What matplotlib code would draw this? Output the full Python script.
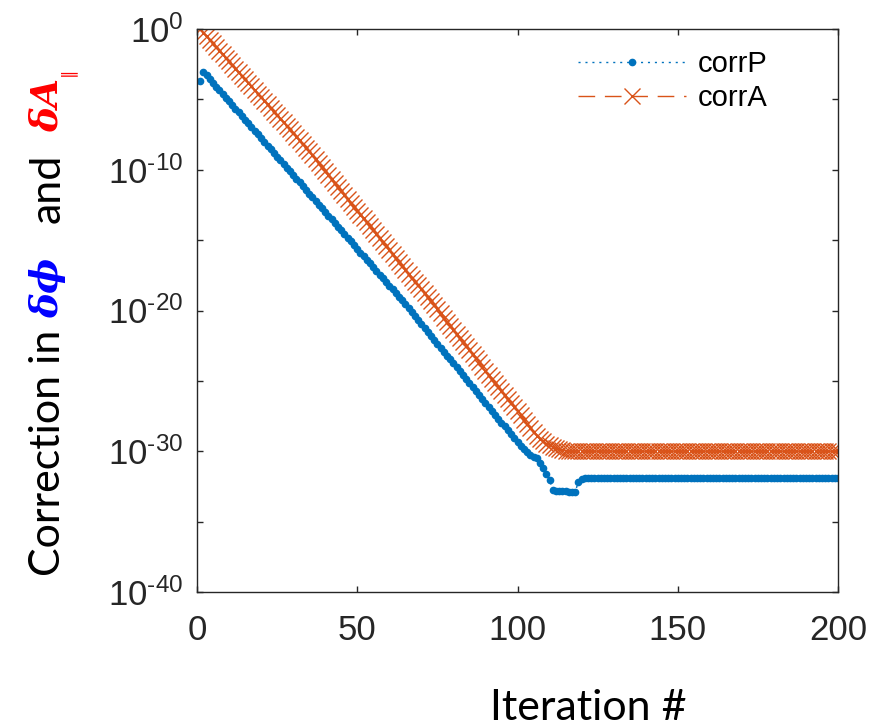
import numpy as np
import matplotlib
matplotlib.use('Agg')
import matplotlib.pyplot as plt

plt.rcParams['font.family'] = ['Liberation Sans', 'DejaVu Sans']
plt.rcParams['mathtext.fontset'] = 'custom'
plt.rcParams['mathtext.rm'] = 'Liberation Sans'
plt.rcParams['mathtext.it'] = 'Liberation Sans:italic'
plt.rcParams['mathtext.default'] = 'regular'

# iteration index
iters = np.arange(1, 201)

# log10 of correction in delta phi
logP = [-3.68, -3.04, -3.30, -3.56, -3.83, -4.09, -4.35, -4.61, -4.87, -5.14,
        -5.40, -5.66, -5.92, -6.18, -6.45, -6.71, -6.97, -7.23, -7.49, -7.76,
        -8.02, -8.28, -8.54, -8.80, -9.07, -9.33, -9.59, -9.85, -10.11, -10.38,
        -10.64, -10.90, -11.16, -11.42, -11.69, -11.95, -12.21, -12.47, -12.73, -13.00,
        -13.26, -13.52, -13.78, -14.04, -14.31, -14.57, -14.83, -15.09, -15.35, -15.62,
        -15.88, -16.14, -16.40, -16.66, -16.93, -17.19, -17.45, -17.71, -17.97, -18.24,
        -18.50, -18.76, -19.02, -19.28, -19.56, -19.84, -20.12, -20.40, -20.68, -20.96,
        -21.24, -21.52, -21.80, -22.08, -22.36, -22.64, -22.92, -23.20, -23.48, -23.76,
        -24.04, -24.32, -24.60, -24.88, -25.16, -25.44, -25.72, -26.00, -26.28, -26.56,
        -26.84, -27.12, -27.40, -27.68, -27.96, -28.24, -28.52, -28.80, -29.08, -29.36,
        -29.62, -29.86, -30.08, -30.28, -30.42, -30.50, -30.85, -31.20, -31.60, -32.05,
        -32.75, -32.80, -32.82, -32.85, -32.85, -32.88, -32.88, -32.90, -32.15, -31.95,
        -31.88, -31.88, -31.88, -31.88, -31.88, -31.88, -31.88, -31.88, -31.88, -31.88,
        -31.88, -31.88, -31.88, -31.88, -31.88, -31.88, -31.88, -31.88, -31.88, -31.88,
        -31.88, -31.88, -31.88, -31.88, -31.88, -31.88, -31.88, -31.88, -31.88, -31.88,
        -31.88, -31.88, -31.88, -31.88, -31.88, -31.88, -31.88, -31.88, -31.88, -31.88,
        -31.88, -31.88, -31.88, -31.88, -31.88, -31.88, -31.88, -31.88, -31.88, -31.88,
        -31.88, -31.88, -31.88, -31.88, -31.88, -31.88, -31.88, -31.88, -31.88, -31.88,
        -31.88, -31.88, -31.88, -31.88, -31.88, -31.88, -31.88, -31.88, -31.88, -31.88,
        -31.88, -31.88, -31.88, -31.88, -31.88, -31.88, -31.88, -31.88, -31.88, -31.88]

# log10 of correction in delta A_parallel
logA = [0.00, -0.26, -0.51, -0.77, -1.02, -1.28, -1.53, -1.79, -2.04, -2.30,
        -2.55, -2.81, -3.06, -3.32, -3.57, -3.83, -4.08, -4.34, -4.59, -4.85,
        -5.10, -5.36, -5.61, -5.87, -6.12, -6.38, -6.63, -6.89, -7.14, -7.40,
        -7.65, -7.91, -8.16, -8.42, -8.70, -8.98, -9.26, -9.54, -9.82, -10.10,
        -10.38, -10.66, -10.94, -11.22, -11.50, -11.78, -12.06, -12.34, -12.62, -12.90,
        -13.18, -13.46, -13.74, -14.02, -14.30, -14.58, -14.86, -15.14, -15.42, -15.70,
        -15.98, -16.26, -16.54, -16.82, -17.10, -17.38, -17.66, -17.94, -18.22, -18.50,
        -18.78, -19.06, -19.34, -19.63, -19.92, -20.21, -20.50, -20.79, -21.08, -21.37,
        -21.66, -21.95, -22.24, -22.53, -22.82, -23.11, -23.40, -23.69, -23.98, -24.27,
        -24.56, -24.85, -25.14, -25.43, -25.72, -26.01, -26.30, -26.59, -26.88, -27.17,
        -27.46, -27.75, -28.04, -28.33, -28.62, -28.90, -29.12, -29.30, -29.45, -29.58,
        -29.68, -29.77, -29.84, -29.90, -29.95, -29.98, -30.00, -30.00, -30.00, -30.00,
        -30.00, -30.00, -30.00, -30.00, -30.00, -30.00, -30.00, -30.00, -30.00, -30.00,
        -30.00, -30.00, -30.00, -30.00, -30.00, -30.00, -30.00, -30.00, -30.00, -30.00,
        -30.00, -30.00, -30.00, -30.00, -30.00, -30.00, -30.00, -30.00, -30.00, -30.00,
        -30.00, -30.00, -30.00, -30.00, -30.00, -30.00, -30.00, -30.00, -30.00, -30.00,
        -30.00, -30.00, -30.00, -30.00, -30.00, -30.00, -30.00, -30.00, -30.00, -30.00,
        -30.00, -30.00, -30.00, -30.00, -30.00, -30.00, -30.00, -30.00, -30.00, -30.00,
        -30.00, -30.00, -30.00, -30.00, -30.00, -30.00, -30.00, -30.00, -30.00, -30.00,
        -30.00, -30.00, -30.00, -30.00, -30.00, -30.00, -30.00, -30.00, -30.00, -30.00]

yticks = [1e-40, 1e-35, 1e-30, 1e-25, 1e-20, 1e-15, 1e-10, 1e-5, 1e0]
yticklabels = [r'$10^{\text{-}40}$', '', r'$10^{\text{-}30}$', '', r'$10^{\text{-}20}$', '',
               r'$10^{\text{-}10}$', '', r'$10^{0}$']
xticks = [0, 50, 100, 150, 200]

corrP = np.power(10.0, logP)
corrA = np.power(10.0, logA)

W, H = 874, 726
fig = plt.figure(figsize=(W / 100, H / 100), dpi=100)
ax = fig.add_axes([197 / W, 1 - 592 / H, 641 / W, 563 / H])

ax.plot(iters, corrP, color='#0072BD', ls=':', dashes=(1.5, 3.5), lw=1, marker='.', ms=9, label='corrP')
ax.plot(iters, corrA, color='#D95319', ls='--', dashes=(12, 7), lw=1, marker='x', ms=12, mew=1, label='corrA')

ax.set_yscale('log')
ax.set_xlim(0, 200)
ax.set_ylim(1e-40, 1e0)
ax.set_yticks(yticks)
ax.set_yticklabels(yticklabels)
ax.yaxis.set_minor_locator(matplotlib.ticker.NullLocator())
ax.set_xticks(xticks)

for s in ax.spines.values():
    s.set_color('#262626')
    s.set_linewidth(1.0)
ax.tick_params(axis='both', direction='in', length=4, width=1, colors='#262626',
               top=True, right=True, labelsize=25, labelcolor='#262626')
ax.tick_params(axis='x', pad=16)
ax.tick_params(axis='y', pad=10)

leg = ax.legend(loc='upper left', bbox_to_anchor=(578 / W, 1 - 50 / H), bbox_transform=fig.transFigure,
                frameon=False, fontsize=21, handlelength=3.7, handletextpad=0.4,
                labelspacing=0.2, borderpad=0, borderaxespad=0, numpoints=1)

# y label in pieces with colours
def px(x, y):
    return x / W, 1 - y / H

kw = dict(rotation=90, rotation_mode='anchor', ha='left', va='baseline')
fig.text(*px(60, 576), 'Correction in', family='Lato', fontsize=31, color='black', **kw)
fig.text(*px(58, 318), 'δϕ', family='DejaVu Serif', weight='bold', style='italic',
         fontsize=27, color='#0000FF', **kw)
fig.text(*px(60, 223), 'and', family='Lato', fontsize=31, color='black', **kw)
fig.text(*px(58, 132), 'δA', family='DejaVu Serif', weight='bold', style='italic',
         fontsize=27, color='#FF0000', **kw)
fig.text(*px(67, 76), '∥', family='DejaVu Sans', fontsize=12, color='#FF0000',
         rotation=90, rotation_mode='anchor', ha='left', va='center')

fig.text(*px(588, 720), 'Iteration #', family='Lato', fontsize=31, color='black',
         ha='center', va='baseline')

plt.savefig('out.png', dpi=100)
plt.close()
